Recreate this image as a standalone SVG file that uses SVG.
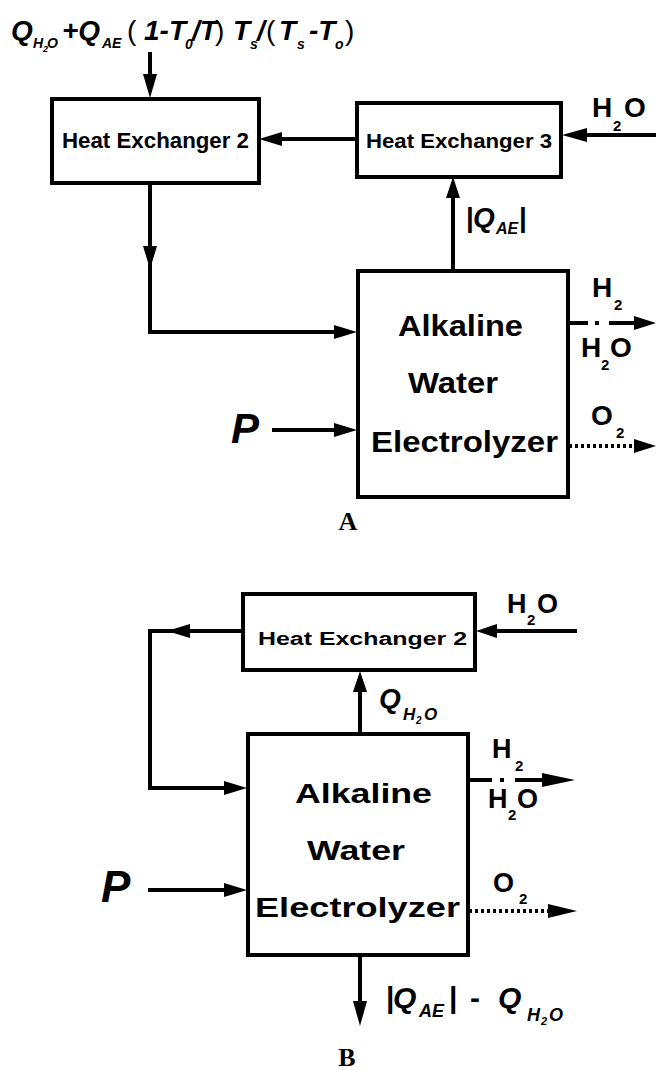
<svg xmlns="http://www.w3.org/2000/svg" width="656" height="1070" viewBox="0 0 656 1070">
<style>
  .box { fill: #fff; stroke: #000; stroke-width: 4; }
  .ln { fill: none; stroke: #000; stroke-width: 4; }
  .dd { fill: none; stroke: #000; stroke-width: 4; stroke-dasharray: 20 7 4 10 40; }
  .dot { fill: none; stroke: #000; stroke-width: 4; stroke-dasharray: 3 3; }
  .hd { fill: #000; stroke: none; }
  text { font-family: "Liberation Sans", Arial, sans-serif; fill: #000; }
  .b { font-weight: bold; }
  .bi { font-weight: bold; font-style: italic; }
  .par { font-weight: normal; font-style: normal; }
  .up { font-weight: bold; font-style: normal; }
  .lab { font-family: "Liberation Serif", "Times New Roman", serif; font-weight: bold; font-size: 26px; text-anchor: middle; }
</style>
<rect width="656" height="1070" fill="#fff"/>

<!-- Panel A connectors -->
<g id="connectors-A">
  <line class="ln" x1="150" y1="52" x2="150" y2="76"/>
  <polygon class="hd" points="143,74 157,74 150,98"/>
  <line class="ln" x1="357" y1="139" x2="280" y2="139"/>
  <polygon class="hd" points="282,132 282,146 259,139"/>
  <line class="ln" x1="656" y1="135" x2="585" y2="135"/>
  <polygon class="hd" points="587,128 587,142 562,135"/>
  <line class="ln" x1="453" y1="271" x2="453" y2="196"/>
  <polygon class="hd" points="446,198 460,198 453,177"/>
  <polyline class="ln" points="150,183 150,332 336,332"/>
  <polygon class="hd" points="143,246 157,246 150,269"/>
  <polygon class="hd" points="334,325 334,339 357,332"/>
  <line class="ln" x1="272" y1="430" x2="336" y2="430"/>
  <polygon class="hd" points="334,423 334,437 357,430"/>
  <line class="dd" x1="568" y1="323" x2="636" y2="323"/>
  <polygon class="hd" points="634,316 634,330 656,323"/>
  <line class="dot" x1="569" y1="446" x2="636" y2="446"/>
  <polygon class="hd" points="634,439 634,453 656,446"/>
</g>

<!-- Panel A nodes -->
<g id="hx2-A">
  <rect class="box" x="52" y="99" width="207" height="84"/>
  <text class="b" x="62" y="148" font-size="22" textLength="187" lengthAdjust="spacingAndGlyphs">Heat Exchanger 2</text>
</g>
<g id="hx3-A">
  <rect class="box" x="357" y="103" width="204" height="74"/>
  <text class="b" x="366" y="148" font-size="21" textLength="186" lengthAdjust="spacingAndGlyphs">Heat Exchanger 3</text>
</g>
<g id="electrolyzer-A">
  <rect class="box" x="358" y="271" width="210" height="226"/>
  <text class="b" x="398" y="336" font-size="29" textLength="125" lengthAdjust="spacingAndGlyphs">Alkaline</text>
  <text class="b" x="408" y="393" font-size="29" textLength="90" lengthAdjust="spacingAndGlyphs">Water</text>
  <text class="b" x="371" y="452" font-size="29" textLength="187" lengthAdjust="spacingAndGlyphs">Electrolyzer</text>
</g>

<!-- Panel A labels -->
<g id="labels-A">
  <text class="bi" font-size="28">
    <tspan x="11" y="40">Q</tspan><tspan x="33" y="48" font-size="14">H</tspan><tspan x="43" y="52" font-size="9">2</tspan><tspan x="47" y="48" font-size="14">O</tspan><tspan x="62" y="40">+Q</tspan><tspan x="102" y="48" font-size="14">AE</tspan><tspan class="par" x="127" y="40" font-size="28">(</tspan><tspan x="144" y="40">1-T</tspan><tspan x="185" y="49" font-size="14">0</tspan><tspan x="192" y="40">/T</tspan><tspan class="par" x="215" y="40" font-size="28">)</tspan><tspan x="233" y="40">T</tspan><tspan x="250" y="49" font-size="14">s</tspan><tspan x="257" y="40">/</tspan><tspan class="par" x="266" y="40" font-size="28">(</tspan><tspan x="279" y="40">T</tspan><tspan x="297" y="49" font-size="14">s</tspan><tspan x="309" y="40">-T</tspan><tspan x="335" y="49" font-size="14">o</tspan><tspan class="par" x="345" y="40" font-size="28">)</tspan>
  </text>
  <text class="b" font-size="28"><tspan x="592" y="117">H</tspan><tspan x="613" y="131" font-size="15">2</tspan><tspan x="624" y="117">O</tspan></text>
  <text class="bi" font-size="28"><tspan class="up" x="466" y="227">|</tspan><tspan x="473" y="227">Q</tspan><tspan x="496" y="234" font-size="16">AE</tspan><tspan class="up" x="519" y="227">|</tspan></text>
  <text class="b" font-size="28"><tspan x="592" y="297">H</tspan><tspan x="614" y="310" font-size="15">2</tspan></text>
  <text class="b" font-size="28"><tspan x="581" y="357">H</tspan><tspan x="601" y="370" font-size="15">2</tspan><tspan x="610" y="357">O</tspan></text>
  <text class="b" font-size="28"><tspan x="591" y="425">O</tspan><tspan x="616" y="438" font-size="15">2</tspan></text>
  <text class="bi" x="231" y="443" font-size="42">P</text>
  <text class="lab" x="348" y="530">A</text>
</g>

<!-- Panel B connectors -->
<g id="connectors-B">
  <line class="ln" x1="577" y1="631" x2="495" y2="631"/>
  <polygon class="hd" points="497,624 497,638 476,631"/>
  <polyline class="ln" points="243,631 150,631 150,788 226,788"/>
  <polygon class="hd" points="190,624 190,638 167,631"/>
  <polygon class="hd" points="224,781 224,795 247,788"/>
  <line class="ln" x1="360" y1="734" x2="360" y2="690"/>
  <polygon class="hd" points="353,692 367,692 360,671"/>
  <line class="ln" x1="148" y1="890" x2="226" y2="890"/>
  <polygon class="hd" points="224,883 224,897 247,890"/>
  <line class="dd" x1="468" y1="780" x2="545" y2="780" style="stroke-dasharray: 24 8 4 11 40"/>
  <polygon class="hd" points="542,773 542,787 575,780"/>
  <line class="dot" x1="469" y1="911" x2="550" y2="911"/>
  <polygon class="hd" points="548,904 548,918 577,911"/>
  <line class="ln" x1="360" y1="955" x2="360" y2="1003"/>
  <polygon class="hd" points="353,1001 367,1001 360,1026"/>
</g>

<!-- Panel B nodes -->
<g id="hx2-B">
  <rect class="box" x="243" y="594" width="232" height="76"/>
  <text class="b" x="258" y="645" font-size="18" textLength="209" lengthAdjust="spacingAndGlyphs">Heat Exchanger 2</text>
</g>
<g id="electrolyzer-B">
  <rect class="box" x="248" y="734" width="220" height="221"/>
  <text class="b" x="295" y="803" font-size="28" textLength="137" lengthAdjust="spacingAndGlyphs">Alkaline</text>
  <text class="b" x="307" y="860" font-size="28" textLength="98" lengthAdjust="spacingAndGlyphs">Water</text>
  <text class="b" x="255" y="917" font-size="28" textLength="205" lengthAdjust="spacingAndGlyphs">Electrolyzer</text>
</g>

<!-- Panel B labels -->
<g id="labels-B">
  <text class="b" font-size="27"><tspan x="507" y="613">H</tspan><tspan x="527" y="625" font-size="15">2</tspan><tspan x="537" y="613">O</tspan></text>
  <text class="bi" font-size="28"><tspan x="379" y="708">Q</tspan><tspan x="403" y="720" font-size="17">H</tspan><tspan x="416" y="724" font-size="10">2</tspan><tspan x="424" y="720" font-size="17">O</tspan></text>
  <text class="b" font-size="27"><tspan x="492" y="758">H</tspan><tspan x="515" y="771" font-size="15">2</tspan></text>
  <text class="b" font-size="27"><tspan x="488" y="808">H</tspan><tspan x="508" y="820" font-size="15">2</tspan><tspan x="517" y="808">O</tspan></text>
  <text class="b" font-size="27"><tspan x="493" y="892">O</tspan><tspan x="519" y="904" font-size="15">2</tspan></text>
  <text class="bi" x="101" y="902" font-size="44">P</text>
  <text class="bi" font-size="30"><tspan class="up" x="386" y="1008">|</tspan><tspan x="393" y="1008">Q</tspan><tspan x="419" y="1017" font-size="18">AE</tspan><tspan class="up" x="449" y="1008">|</tspan><tspan class="up" x="470" y="1008">-</tspan><tspan x="498" y="1008">Q</tspan><tspan x="527" y="1021" font-size="18">H</tspan><tspan x="541" y="1025" font-size="11">2</tspan><tspan x="549" y="1021" font-size="18">O</tspan></text>
  <text class="lab" x="347" y="1066">B</text>
</g>
</svg>
